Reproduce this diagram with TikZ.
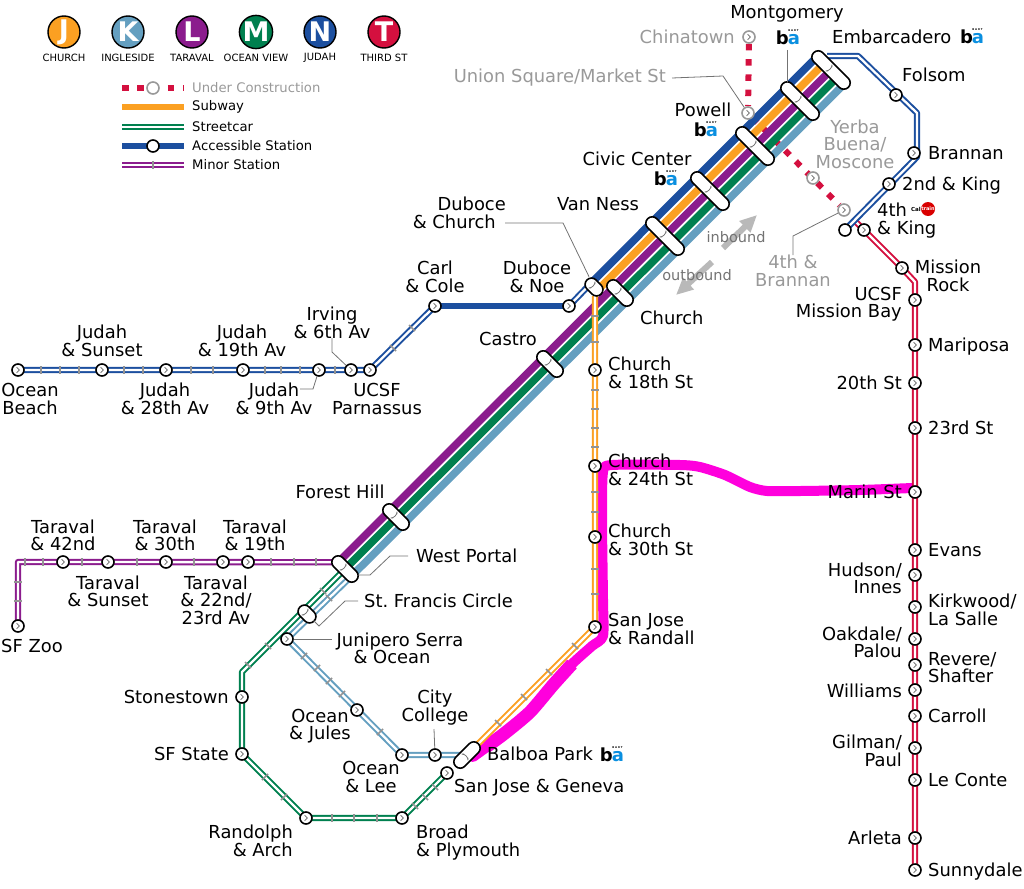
\documentclass[tikz,border=0pt]{standalone}
\usepackage{fontspec}
\setmainfont{DejaVu Sans}
\usetikzlibrary{calc}
\usetikzlibrary{arrows.meta}
\definecolor{lineJ}{HTML}{FBA022}
\definecolor{lineK}{HTML}{649FC0}
\definecolor{lineL}{HTML}{8B1C8D}
\definecolor{lineM}{HTML}{00804F}
\definecolor{lineN}{HTML}{1C4F9F}
\definecolor{lineT}{HTML}{D4103F}
\definecolor{hilite}{HTML}{FF00DD}
\definecolor{bartblue}{HTML}{0A8FE0}
\definecolor{labelgray}{HTML}{999999}
\pgfdeclarelayer{lines}
\pgfsetlayers{lines,main}
\newcommand{\chev}[3]{\draw[gray!80!black,line width=0.7pt,shift={(#1pt,#2pt)},rotate=#3] (-1.4pt,2.8pt) -- (1.4pt,0pt) -- (-1.4pt,-2.8pt);}
\tikzset{
    roundel/.style = {circle, draw=black, line width=1.4pt, minimum size=32pt, inner sep=0pt, fill=#1, text=white, font=\bfseries\fontsize{27}{27}\selectfont},
    sublabel/.style = {inner sep=0pt, font=\fontsize{10}{10}\selectfont},
    legendlabel/.style = {inner sep=0pt, anchor=west, font=\fontsize{13.2}{13.2}\selectfont},
    flowlabel/.style = {inner sep=0pt, text=gray!90!black, font=\fontsize{14.5}{14.5}\selectfont},
    lbl/.style = {inner sep=0pt, align=center, yshift=-2pt, font=\fontsize{17.9}{17.5}\selectfont,
      execute at begin node={\leavevmode\vphantom{Ag}}, execute at end node={\vphantom{Ag}}},
    lblw/.style = {lbl, anchor=west, align=left},
    lble/.style = {lbl, anchor=east, align=right},
    dim/.style = {text=labelgray},
    stat/.style = {circle, draw=black, line width=1.6pt, fill=white, minimum size=12pt, inner sep=0pt,
      path picture={\chev{0}{0}{#1}}},
    gstat/.style = {circle, draw=labelgray, line width=1.6pt, fill=white, minimum size=12pt, inner sep=0pt,
      path picture={\chev{0}{0}{#1}}},
    tube/.style n args = {3}{rectangle, draw=black, line width=1.6pt, fill=white, rounded corners=6.4pt,
      minimum width=#1pt, minimum height=12.8pt, inner sep=0pt, rotate=-45,
      path picture={\chev{#2}{0}{#3}}},
    stripe/.style = {line width=7.6pt},
    surf/.style = {draw=#1, line width=2pt, double=white, double distance=2.3pt, line join=round},
    minor/.style = {rectangle, fill=gray!85, minimum width=8.5pt, minimum height=1.7pt, inner sep=0pt, rotate=#1},
    leader/.style = {draw=gray!90!black, line width=0.8pt},
    dashline/.style = {draw=lineT, line width=6pt, dash pattern=on 6.5pt off 8.8pt},
    flow/.style = {draw=gray!55, line width=6pt, -{Triangle[length=17pt,width=15pt]}},
    bart/.style = {inner sep=0pt, font=\bfseries\fontsize{18}{18}\selectfont},
}
\newcommand{\ba}{b\kern-1pt\rlap{\raisebox{12.4pt}{\fontsize{2.6}{2.6}\selectfont\,B\,\,A\,\,R\,\,T}}\textcolor{bartblue}{a}}
\begin{document}
\begin{tikzpicture}[x=1pt,y=1pt]
  \useasboundingbox (0,0) rectangle (1024,-888);

  % line roundels
  \node[roundel=lineJ] (rj) at (64,-32) {J};
  \node[roundel=lineK] (rk) at (128,-32) {K};
  \node[roundel=lineL] (rl) at (192,-32) {L};
  \node[roundel=lineM] (rm) at (256,-32) {M};
  \node[roundel=lineN] (rn) at (320,-32) {N};
  \node[roundel=lineT] (rt) at (384,-32) {T};
  \node[sublabel] (sj) at (64,-58) {CHURCH};
  \node[sublabel] (sk) at (128,-58) {INGLESIDE};
  \node[sublabel] (sl) at (192,-58) {TARAVAL};
  \node[sublabel] (sm) at (256,-58) {OCEAN VIEW};
  \node[sublabel] (sn) at (320,-58) {JUDAH};
  \node[sublabel] (st) at (384,-58) {THIRD ST};

  % legend
  \draw[dashline] (122,-88) -- (184,-88);
  \draw[line width=6pt,lineJ] (122,-107) -- (184,-107);
  \draw[surf=lineM] (122,-127) -- (184,-127);
  \draw[line width=6pt,lineN] (122,-146) -- (184,-146);
  \draw[surf=lineL] (122,-165) -- (184,-165);
  \node[circle,draw=labelgray,line width=1.6pt,fill=white,minimum size=12pt,inner sep=0pt] (lega) at (153,-88) {};
  \node[circle,draw=black,line width=1.6pt,fill=white,minimum size=12pt,inner sep=0pt] (legb) at (153,-146) {};
  \node[minor=90] (legc) at (153,-165) {};
  \node[legendlabel,dim] (ta) at (192,-88) {Under Construction};
  \node[legendlabel] (tb) at (192,-107) {Subway};
  \node[legendlabel] (tc) at (192,-127) {Streetcar};
  \node[legendlabel] (td) at (192,-146) {Accessible Station};
  \node[legendlabel] (te) at (192,-165) {Minor Station};

  % trunk stations
  \node[tube={49}{0}{135}] (embarcadero) at (831,-70) {};
  \node[tube={49}{-17}{180}] (montgomery) at (800,-101) {};
  \node[tube={49}{-17}{180}] (powell) at (755,-146) {};
  \node[tube={49}{-17}{180}] (civic) at (710,-191) {};
  \node[tube={49}{-17}{180}] (vanness) at (665,-236) {};
  \node[tube={20}{0}{135}] (dubchurch) at (594,-287) {};
  \node[tube={32}{9}{0}] (church) at (620,-293) {};
  \node[tube={32}{-9}{180}] (castro) at (550,-364) {};
  \node[tube={32}{-9}{180}] (foresthill) at (396,-517) {};
  \node[tube={32}{10}{0}] (westportal) at (345,-569) {};
  \node[tube={20}{0}{45}] (francis) at (307,-614) {};
  \node[tube={32}{0}{-45},rotate=90] (balboa) at (467,-755) {};

  % surface stations
  \node[stat=-90] (oceanbeach) at (18,-370) {};
  \node[stat=90] (jsunset) at (102,-370) {};
  \node[stat=-90] (j28) at (166,-370) {};
  \node[stat=90] (j19) at (243,-370) {};
  \node[stat=225] (j9) at (319,-370) {};
  \node[stat=135] (irving) at (351,-370) {};
  \node[stat=-90] (parnassus) at (370,-370) {};
  \node[stat=90] (carl) at (435,-306) {};
  \node[stat=135] (dubnoe) at (569,-306) {};
  \node[stat=0] (c18) at (595,-370) {};
  \node[stat=0] (c24) at (595,-466) {};
  \node[stat=0] (c30) at (595,-537) {};
  \node[stat=0] (randall) at (595,-627) {};
  \node[stat=-90] (zoo) at (18,-626) {};
  \node[stat=90] (t42) at (63,-562) {};
  \node[stat=-90] (tsunset) at (108,-562) {};
  \node[stat=90] (t30) at (166,-562) {};
  \node[stat=-90] (t22) at (223,-562) {};
  \node[stat=90] (t19) at (248,-562) {};
  \node[stat=0] (junipero) at (287,-639) {};
  \node[stat=180] (stonestown) at (242,-697) {};
  \node[stat=180] (sfstate) at (242,-754) {};
  \node[stat=225] (randolph) at (306,-818) {};
  \node[stat=-45] (broad) at (402,-818) {};
  \node[stat=-45] (geneva) at (447,-773) {};
  \node[stat=225] (jules) at (357,-710) {};
  \node[stat=225] (lee) at (402,-755) {};
  \node[stat=90] (college) at (435,-755) {};
  \node[stat=45] (folsom) at (896,-95) {};
  \node[stat=0] (brannan) at (914,-153) {};
  \node[stat=0] (second) at (889,-184) {};
  \node[circle,draw=black,line width=1.6pt,fill=white,minimum size=12pt,inner sep=0pt] (nend) at (845,-230) {};
  \node[stat=0] (fourth) at (864,-230) {};
  \node[stat=0] (missionrock) at (902,-268) {};
  \node[stat=180] (missionbay) at (915,-300) {};
  \node[stat=0] (mariposa) at (915,-345) {};
  \node[stat=180] (s20) at (915,-383) {};
  \node[stat=0] (s23) at (915,-428) {};
  \node[stat=180] (marin) at (915,-492) {};
  \node[stat=0] (evans) at (915,-550) {};
  \node[stat=180] (hudson) at (915,-575) {};
  \node[stat=0] (kirkwood) at (915,-607) {};
  \node[stat=180] (oakdale) at (915,-639) {};
  \node[stat=0] (revere) at (915,-665) {};
  \node[stat=180] (williams) at (915,-690) {};
  \node[stat=0] (carroll) at (915,-716) {};
  \node[stat=180] (gilman) at (915,-748) {};
  \node[stat=0] (leconte) at (915,-780) {};
  \node[stat=180] (arleta) at (915,-838) {};
  \node[stat=0] (sunnydale) at (915,-870) {};
  \node[gstat=180] (chinatown) at (749,-37) {};
  \node[gstat=135] (unionsq) at (748,-113) {};
  \node[gstat=45] (yerba) at (813,-178) {};
  \node[gstat=225] (brannan4) at (844,-210) {};

  \begin{pgfonlayer}{lines}
    % the hand drawn mark goes under everything
    \draw[hilite,line width=10pt,line join=round,line cap=round] plot[smooth,tension=0.4] coordinates
      {(473,-757) (503,-735) (530,-712) (553,-685) (573,-663) (592,-646) (603,-636) (603,-600) (602,-520) (603,-472) (612,-465) (680,-465) (700,-467) (725,-475) (750,-487) (767,-491) (800,-491) (860,-490) (912,-488)};
    \draw[hilite,line width=13pt,line join=round] plot[smooth,tension=0.4] coordinates
      {(486,-747) (505,-733) (530,-712) (553,-685) (572,-664)};
    \draw[dashline] (chinatown) -- (unionsq);
    \draw[dashline] (unionsq) -- (brannan4);
    % underground
    \draw[stripe,lineN] ($(embarcadero)+(-13.6,13.6)$) -- ($(dubchurch)+(-3.4,3.4)$);
    \draw[stripe,lineJ] ($(embarcadero)+(-6.8,6.8)$) -- ($(dubchurch)+(3.4,-3.4)$);
    \draw[stripe,lineL] (embarcadero.center) -- ($(westportal)+(-6.8,6.8)$);
    \draw[stripe,lineM] ($(embarcadero)+(6.8,-6.8)$) -- (westportal.center);
    \draw[stripe,lineK] ($(embarcadero)+(13.6,-13.6)$) -- ($(westportal)+(6.8,-6.8)$);
    % surface
    \draw[surf=lineJ] (595,-296) -- (randall.center) -- (balboa.center);
    \draw[surf=lineK] ($(westportal)+(6.8,-6.8)$) -- (junipero.center) -- (lee.center) -- (balboa.center);
    \draw[surf=lineM] (westportal.center) -- (242,-672) -- (sfstate.center) -- (randolph.center) -- (broad.center) -- (geneva.center);
    \draw[surf=lineL] ($(westportal)+(-6.8,6.8)$) -- (18,-562) -- (zoo.center);
    \draw[surf=lineN] (oceanbeach.center) -- (parnassus.center) -- (carl.center);
    \draw[line width=6.4pt,lineN] (carl.center) -- (dubnoe.center);
    \draw[surf=lineN] (dubnoe.center) -- ($(dubchurch)+(-3.4,3.4)$);
    \draw[surf=lineT] (855,-221) -- (missionrock.center) -- (915,-282) -- (sunnydale.center);
    \draw[surf=lineN] (827,-56) -- (858,-56) -- (917,-113) -- (917,-157) -- (nend.center);
  \end{pgfonlayer}

  % minor stations
  \foreach \x in {41,60,79,124,143,191,213,265,281,300,335} \node[minor=90] (mn\x) at (\x,-370) {};
  \foreach \x in {25,43,82,137,194,271,294,316} \node[minor=90] (ml\x) at (\x,-562) {};
  \foreach \y in {582,601} \node[minor=0] (mz\y) at (18,-\y) {};
  \foreach \y in {316,342,390,409,428,447,492,512,569,594} \node[minor=0] (mj\y) at (595,-\y) {};
  \node[minor=-45] (mna) at (393,-348) {};
  \node[minor=-45] (mnb) at (412,-328) {};
  \node[minor=-45] (mja) at (575,-646) {};
  \node[minor=-45] (mjb) at (549,-672) {};
  \node[minor=-45] (mjc) at (524,-697) {};
  \node[minor=-45] (mjd) at (498,-723) {};
  \node[minor=45] (mka) at (304,-656) {};
  \node[minor=45] (mkb) at (317,-668) {};
  \node[minor=45] (mkc) at (329,-681) {};
  \node[minor=45] (mkd) at (342,-694) {};
  \node[minor=45] (mke) at (380,-732) {};
  \node[minor=-45] (mkf) at (329,-598) {};
  \node[minor=-45] (mma) at (323,-591) {};
  \node[minor=-45] (mmb) at (268,-646) {};
  \node[minor=-45] (mmc) at (248,-665) {};
  \node[minor=45] (mmd) at (265,-777) {};
  \node[minor=45] (mme) at (284,-797) {};
  \node[minor=90] (mmf) at (332,-818) {};
  \node[minor=90] (mmg) at (354,-818) {};
  \node[minor=90] (mmh) at (377,-818) {};
  \node[minor=-45] (mmi) at (415,-806) {};
  \node[minor=-45] (mmj) at (425,-797) {};
  \node[minor=-45] (mmk) at (435,-787) {};

  % direction arrows
  \coordinate (ina) at (723,-248);
  \coordinate (inb) at (757,-215);
  \coordinate (outa) at (712,-262);
  \coordinate (outb) at (676,-295);
  \draw[flow] (ina) -- (inb);
  \draw[flow] (outa) -- (outb);
  \node[flowlabel] (intxt) at (736,-237) {inbound};
  \node[flowlabel] (outtxt) at (697,-275) {outbound};

  % labels
  \node[lbl] (l1) at (787,-12) {Montgomery};
  \node[lble,dim] (l2) at (735,-37) {Chinatown};
  \node[lblw] (l3) at (832,-37) {Embarcadero};
  \node[lblw] (l4) at (902,-75) {Folsom};
  \node[lble,dim] (l5) at (666,-76) {Union Square/Market St};
  \node[lbl] (l6) at (703,-110) {Powell};
  \node[lbl] (l7) at (637,-159) {Civic Center};
  \node[lbl] (l8) at (598,-204) {Van Ness};
  \node[lble] (l9) at (506,-212.5) {Duboce\\\& Church\hspace*{10pt}};
  \node[lbl] (l10) at (435,-276.5) {Carl\\\& Cole};
  \node[lbl] (l11) at (537,-276.5) {Duboce\\\& Noe};
  \node[lbl] (l12) at (508,-339) {Castro};
  \node[lblw] (l13) at (640,-318) {Church};
  \node[lbl,dim] (l14) at (855,-144) {Yerba\\Buena/\\Moscone};
  \node[lbl,dim] (l15) at (793,-270.5) {4th \&\\Brannan};
  \node[lblw] (l16) at (928,-153) {Brannan};
  \node[lblw] (l17) at (902,-184) {2nd \& King};
  \node[lblw] (l18) at (877,-218.5) {4th\\\& King};
  \node[lbl] (l19) at (948,-275.5) {Mission\\Rock};
  \node[lble] (l20) at (902,-302) {UCSF\\Mission Bay};
  \node[lblw] (l21) at (928,-345) {Mariposa};
  \node[lble] (l22) at (902,-383) {20th St};
  \node[lblw] (l23) at (928,-428) {23rd St};
  \node[lble] (l24) at (902,-492) {Marin St};
  \node[lblw] (l25) at (928,-550) {Evans};
  \node[lble] (l26) at (902,-578) {Hudson/\\Innes};
  \node[lblw] (l27) at (928,-609.5) {Kirkwood/\\La Salle};
  \node[lble] (l28) at (902,-642) {Oakdale/\\Palou};
  \node[lblw] (l29) at (928,-667.5) {Revere/\\Shafter};
  \node[lble] (l30) at (902,-691) {Williams};
  \node[lblw] (l31) at (928,-716) {Carroll};
  \node[lble] (l32) at (902,-750.5) {Gilman/\\Paul};
  \node[lblw] (l33) at (928,-780) {Le Conte};
  \node[lble] (l34) at (902,-838) {Arleta};
  \node[lblw] (l35) at (928,-870) {Sunnydale};
  \node[lblw] (l36) at (608,-372.5) {Church\\\& 18th St};
  \node[lblw] (l37) at (608,-469.5) {Church\\\& 24th St};
  \node[lblw] (l38) at (608,-539.5) {Church\\\& 30th St};
  \node[lblw] (l39) at (608,-628.5) {San Jose\\\& Randall};
  \node[lblw] (l40) at (487,-754) {Balboa Park};
  \node[lblw] (l41) at (454,-786) {San Jose \& Geneva};
  \node[lblw] (l42) at (416,-556) {West Portal};
  \node[lblw] (l43) at (364,-601) {St.\ Francis Circle};
  \node[lbl] (l44) at (400,-648) {Junipero Serra\\\& Ocean\hspace*{16pt}};
  \node[lbl] (l45) at (320,-724) {Ocean\\\& Jules};
  \node[lbl] (l46) at (371,-776.5) {Ocean\\\& Lee};
  \node[lbl] (l47) at (435,-705.5) {City\\College};
  \node[lblw] (l48) at (416,-840.5) {Broad\\\& Plymouth};
  \node[lble] (l49) at (293,-840.5) {Randolph\\\& Arch};
  \node[lble] (l50) at (229,-754) {SF State};
  \node[lble] (l51) at (229,-697) {Stonestown};
  \node[lbl] (l52) at (340,-492) {Forest Hill};
  \node[lbl] (l53) at (63,-535) {Taraval\\\& 42nd};
  \node[lbl] (l54) at (165,-535) {Taraval\\\& 30th};
  \node[lbl] (l55) at (255,-535) {Taraval\\\& 19th};
  \node[lbl] (l56) at (108,-591) {Taraval\\\& Sunset};
  \node[lbl] (l57) at (216,-600) {Taraval\\\& 22nd/\\23rd Av};
  \node[lbl] (l58) at (32,-646) {SF Zoo};
  \node[lbl] (l59) at (30,-398.5) {Ocean\\Beach};
  \node[lbl] (l60) at (102,-340.5) {Judah\\\& Sunset};
  \node[lbl] (l61) at (165,-398.5) {Judah\\\& 28th Av};
  \node[lbl] (l62) at (242,-340.5) {Judah\\\& 19th Av};
  \node[lbl] (l63) at (274,-398.5) {Judah\\\& 9th Av};
  \node[lbl] (l64) at (332,-322.5) {Irving\\\& 6th Av};
  \node[lbl] (l65) at (377,-398.5) {UCSF\\Parnassus};

  % logos
  \node[bart] (b1) at (788,-37) {\ba};
  \node[bart] (b2) at (972,-36) {\ba};
  \node[bart] (b3) at (706,-129) {\ba};
  \node[bart] (b4) at (666,-178) {\ba};
  \node[bart] (b5) at (612,-754) {\ba};
  \node[circle,fill=red!85!black,minimum size=14pt,inner sep=0pt,text=white,font=\bfseries\fontsize{5}{5}\selectfont] (cal) at (928,-209) {train};
  \node[inner sep=0pt,anchor=east,font=\bfseries\fontsize{5.5}{5.5}\selectfont] (cala) at (921,-209) {Cal};

  % leaders
  \coordinate (montend) at (787,-82);
  \draw[leader] ([xshift=6pt]l5.east) -- (723,-76) -- (unionsq);
  \draw[leader] (787,-50) -- (montend);
  \draw[leader] (brannan4) -- (793,-236) -- (793,-255);
  \draw[leader] (505,-223) -- (563,-223) -- (dubchurch);
  \draw[leader] (408,-556) -- (390,-556) -- (370,-575) -- (358,-575);
  \draw[leader] (358,-601) -- (345,-601) -- (319,-626) -- (313,-620);
  \draw[leader] (junipero) -- (332,-639);
  \draw[leader] (college) -- (434,-729);
  \draw[leader] (332,-338) -- (332,-352) -- (irving);
  \draw[leader] (300,-389) -- (313,-389) -- (j9);
\end{tikzpicture}
\end{document}
